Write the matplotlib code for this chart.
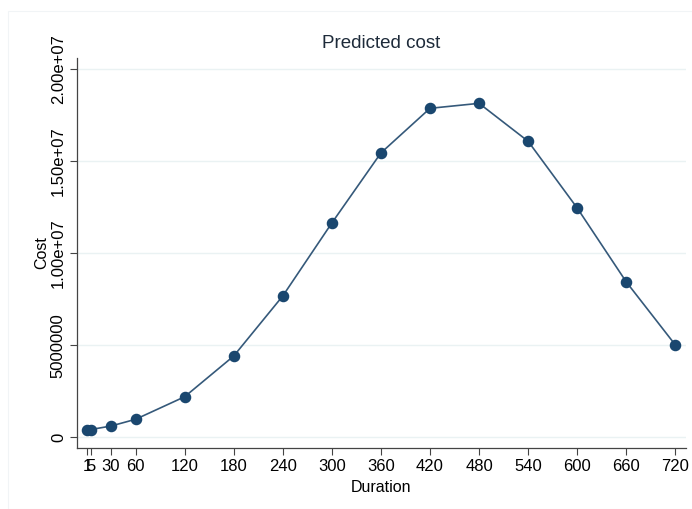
import matplotlib.pyplot as plt
import matplotlib.patches as mpatches
import numpy as np

# Data
duration = [1, 5, 30, 60, 120, 180, 240, 300, 360, 420, 480, 540, 600, 660, 720]
cost = [400000, 420000, 613000, 977000, 2200000, 4410000, 7670000, 11630000,
        15430000, 17850000, 18120000, 16060000, 12440000, 8430000, 5010000]
x_ticks = [1, 5, 30, 60, 120, 180, 240, 300, 360, 420, 480, 540, 600, 660, 720]
y_ticks = [0, 5000000, 10000000, 15000000, 20000000]
y_labels = ['0', '5000000', '1.00e+07', '1.50e+07', '2.00e+07']

navy = '#1a476f'
plt.rcParams['font.family'] = ['Liberation Sans', 'DejaVu Sans']

fig = plt.figure(figsize=(6.92, 5.09), dpi=100)
W, H = 692, 509
# faint outer frame (graph region)
fig.patches.append(mpatches.Rectangle((8 / W, 0), 1, 1 - 11 / H, transform=fig.transFigure,
                                      fill=False, edgecolor='#f1f4f6', linewidth=0.8))

ax = fig.add_axes([77 / W, 1 - 448 / H, (686 - 77) / W, (448 - 58) / H])
ax.plot(duration, cost, color='#35597a', linewidth=1.2, zorder=2)
ax.plot(duration, cost, linestyle='none', marker='o',
        markersize=7.3, markerfacecolor=navy, markeredgecolor=navy, zorder=3)

ax.set_xlim(-11.6, 733)
ax.set_ylim(-580000, 2.058e7)
ax.set_xticks(x_ticks)
ax.set_xticklabels([str(v) for v in x_ticks])
ax.set_yticks(y_ticks)
ax.set_yticklabels(y_labels, rotation=90, va='center')
for y in y_ticks:
    ax.axhline(y, color='#eaf2f3', linewidth=1.0, zorder=0)

for s in ['top', 'right']:
    ax.spines[s].set_visible(False)
for s in ['left', 'bottom']:
    ax.spines[s].set_color('#444444')
    ax.spines[s].set_linewidth(0.9)
ax.tick_params(axis='both', colors='#444444', labelcolor='black', labelsize=12,
               length=5, width=0.8, pad=3)

ax.set_xlabel('Duration', fontsize=11.5, labelpad=4)
ax.set_ylabel('Cost', fontsize=11.5, labelpad=1)
ax.set_title('Predicted cost', fontsize=13.5, color='#1e2b3a', pad=7)

fig.savefig('out.png', dpi=100, facecolor='white')
